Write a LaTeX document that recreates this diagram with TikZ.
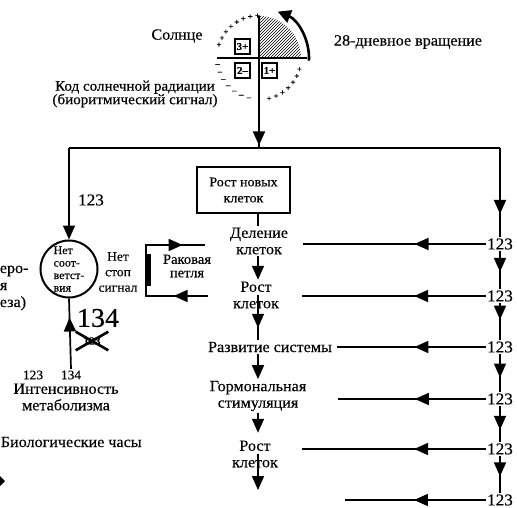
\documentclass[tikz,border=0pt]{standalone}
\usepackage{fontspec}
\setmainfont{Liberation Serif}[FakeStretch=1.04, FakeBold=0.3]
\usetikzlibrary{arrows.meta, calc, decorations.markings, patterns, shapes.misc}
\tikzset{
  every picture/.style={line width=1.7pt},
  bigtip/.tip={Triangle[length=14pt, width=12pt]},
  midarrow/.style={postaction={decorate}, decoration={markings, mark=at position #1 with {\arrow{bigtip}}}},
  midarrow/.default=0.6,
  lbl/.style={font=\fontsize{15.5}{16.5}\selectfont, align=center, inner sep=1pt},
  lblbox/.style={font=\fontsize{13.5}{16}\selectfont, align=center},
  lblsmall/.style={font=\fontsize{13}{15.5}\selectfont, align=center, inner sep=1pt},
  lbltiny/.style={font=\fontsize{11.5}{12.5}\selectfont, align=left},
  num/.style={font=\fontsize{16.5}{16}\selectfont, inner sep=0.5pt},
  qbox/.style={draw, line width=1.2pt, minimum size=15pt, inner sep=0pt, font=\fontsize{10.5}{10}\selectfont\bfseries},
  sign/.style={font=\fontsize{8.5}{8}\selectfont\bfseries, inner sep=0pt},
}

\begin{document}
\begin{tikzpicture}[x=1pt, y=-1pt]
  \useasboundingbox (0,0) rectangle (517,508);
  % the sun with its quadrants
  \coordinate (sun) at (259,58);
  \coordinate (suntop) at (259,16);
  \fill[pattern=north east lines] (sun) -- ++(42,0) arc[start angle=0, end angle=-90, radius=42] -- cycle;
  \foreach \a in {198,208,...,268} \node[sign] at ($(sun)+(\a:42)$) {+};
  \foreach \a in {104,115,...,170} \node[sign] at ($(sun)+(\a:42)$) {--};
  \foreach \a in {16,26,...,78} \node[sign] at ($(sun)+(\a:42)$) {+};
  \draw[line width=2pt] (217,58) -- (307,58);
  \node[qbox, fill=white] (q3) at (242.5,46.5) {3+};
  \node[qbox, fill=white] (q2) at (242.5,70.5) {2--};
  \node[qbox, fill=white] (q1) at (269.5,70.5) {1+};
  \draw[line width=2.6pt, -{Triangle[length=13pt, width=13pt]}] ($(sun)+(3:50)$) arc[start angle=3, end angle=-68, radius=50];
  \node[lbl] (sunlbl) at (177,36) {Солнце};
  \node[lbl] (rot) at (408,42) {28-дневное вращение};
  \node[lbl, font=\fontsize{14.5}{13.5}\selectfont] (code) at (135,94) {Код солнечной радиации\\(биоритмический сигнал)};

  % trunk and branches
  \coordinate (junc) at (259,148);
  \coordinate (jl) at (69,148);
  \coordinate (jr) at (500,148);
  \coordinate (colx) at (258,0);
  \draw[line width=2pt, midarrow=0.98] (suntop) -- (junc);
  \draw (jl) -- (jr);

  % left: the mismatch circle
  \node[circle, draw, line width=2pt, minimum size=57pt, inner sep=-6pt, lbltiny] (nomatch) at (69,269) {Нет\\соот-\\ветст-\\вия};
  \draw[-bigtip] (jl) -- (nomatch.north);
  \node[num] (lab123) at (91,200) {123};
  \node[lblsmall] (nostop) at (118,272) {Нет\\стоп\\сигнал};
  \node[lbl, anchor=west, align=left, font=\fontsize{15.5}{17}\selectfont] (cut) at (-2,288) {еро-\\я\\еза)};

  % cancer loop
  \coordinate (lpA) at (208,296);
  \coordinate (lpB) at (146,296);
  \coordinate (lpC) at (146,245);
  \coordinate (lpD) at (205,245);
  \draw[postaction={decorate}, decoration={markings,
      mark=at position 0.2 with {\arrow{bigtip}},
      mark=at position 0.87 with {\arrow{bigtip}}}] (lpA) -- (lpB) -- (lpC) -- (lpD);
  \fill (145,254) rectangle (151,286);
  \node[lblsmall, font=\fontsize{14}{13.5}\selectfont] (loop) at (187,266) {Раковая\\петля};

  % metabolism input
  \node[lblsmall] (n123) at (33,375) {123};
  \node[lblsmall] (n134) at (71,375) {134};
  \draw[midarrow=0.73] (n134.north) -- (nomatch.south);
  \node[font=\fontsize{27}{27}\selectfont, inner sep=0pt] (big134) at (98,318) {134};
  \node[cross out, draw, line width=2.6pt, minimum width=30pt, minimum height=16pt, inner sep=0pt,
        font=\fontsize{11}{10}\selectfont\bfseries] (old123) at (92,341) {123};
  \node[lbl] (metab) at (66,397) {Интенсивность\\метаболизма};
  \node[lbl, anchor=west] (clock) at (-1,442) {Биологические часы};
  \fill (0,476) -- (5,481) -- (0,486) -- cycle;

  % central column
  \node[draw, line width=2pt, minimum width=93pt, minimum height=46pt, lblbox] (newcells) at (243.5,190) {Рост новых\\клеток};
  \node[lbl] (div) at (259,241) {Деление\\клеток};
  \node[lbl] (grow1) at (256,295) {Рост\\клеток};
  \node[lbl] (dev) at (270,347) {Развитие системы};
  \node[lbl] (horm) at (258,396) {Гормональная\\стимуляция};
  \node[lbl] (grow2) at (255,454) {Рост\\клеток};
  \coordinate (colend) at (258,490);
  \draw (newcells.south -| colx) -- (div.north -| colx);
  \draw[-bigtip] (div.south -| colx) -- (grow1.north -| colx);
  \draw[midarrow=0.73] (grow1.center -| colx) -- (dev.north -| colx);
  \draw[-bigtip] (dev.south -| colx) -- (horm.north -| colx);
  \draw[-bigtip, shorten >=6pt] (horm.south -| colx) -- (grow2.north -| colx);
  \draw[-bigtip] (grow2.center -| colx) -- (colend);

  % right column of signals
  \foreach \n/\y in {1/244, 2/296, 3/347, 4/399, 5/449, 6/500}
    \node[num] (r\n) at (500,\y) {123};
  \draw[midarrow=0.74] (jr) -- (r1.north);
  \foreach \a/\b/\p in {1/2/0.55, 2/3/0.45, 3/4/0.62, 4/5/0.66, 5/6/0.55}
    \draw[midarrow=\p] (r\a.south) -- (r\b.north);
  \foreach \n/\x/\p in {1/303/0.39, 2/302/0.39, 3/337/0.48, 4/338/0.48, 5/302/0.39, 6/345/0.51} {
    \coordinate (e\n) at (\x,0 |- r\n.west);
    \draw[midarrow=\p] (r\n.west) -- (e\n);
  }
\end{tikzpicture}
\end{document}
